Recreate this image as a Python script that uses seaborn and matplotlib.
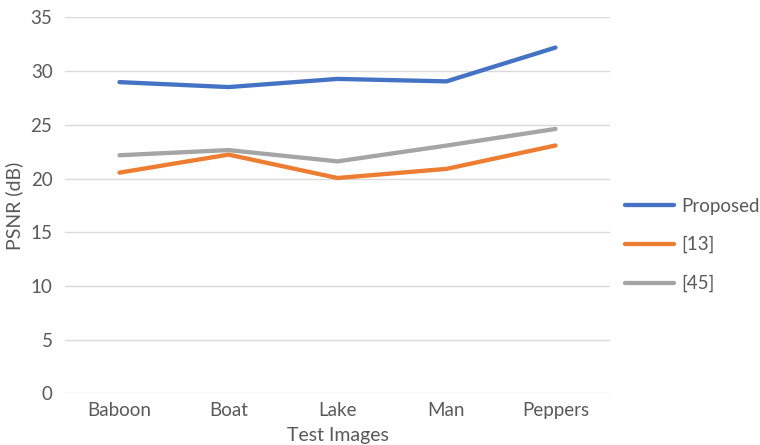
import matplotlib
matplotlib.use("Agg")
import matplotlib.pyplot as plt
import seaborn as sns
import pandas as pd

images = ["Baboon", "Boat", "Lake", "Man", "Peppers"]
proposed = [28.98, 28.52, 29.28, 29.05, 32.2]
ref13 = [20.55, 22.23, 20.05, 20.9, 23.08]
ref45 = [22.17, 22.65, 21.6, 23.07, 24.62]
series_names = ["Proposed", "[13]", "[45]"]
yticks = [0, 5, 10, 15, 20, 25, 30, 35]

df = pd.DataFrame({
    "image": images * 3,
    "psnr": proposed + ref13 + ref45,
    "method": [series_names[0]] * 5 + [series_names[1]] * 5 + [series_names[2]] * 5,
})

sns.set_theme(style="white")
plt.rcParams["font.family"] = ["Lato", "DejaVu Sans"]
text_color = "#595959"

fig = plt.figure(figsize=(7.6, 4.45), dpi=100)
ax = fig.add_axes([0.0855, 0.1162, 0.7171, 0.8445])

palette = {"Proposed": "#4472C4", "[13]": "#ED7D31", "[45]": "#A5A5A5"}
sns.lineplot(data=df, x="image", y="psnr", hue="method", palette=palette,
             linewidth=3.1, ax=ax, sort=False, legend=False)
for line in ax.get_lines():
    line.set_solid_capstyle("round")
    line.set_solid_joinstyle("round")

ax.set_xlim(-0.5, len(images) - 0.5)
ax.set_ylim(0, 35)
ax.set_yticks(yticks)
ax.set_xticks(range(len(images)))
ax.set_xticklabels(images)
ax.grid(axis="y", color="#D9D9D9", linewidth=1.0)
ax.set_axisbelow(True)
for s in ax.spines.values():
    s.set_visible(False)
ax.tick_params(axis="both", length=0, labelsize=13.5, colors=text_color)
ax.tick_params(axis="y", pad=9)
ax.tick_params(axis="x", pad=6)
ax.set_xlabel("Test Images", fontsize=14, color=text_color, labelpad=6)
ax.set_ylabel("PSNR (dB)", fontsize=14, color=text_color, labelpad=5)

handles = [plt.Line2D([0], [0], color=palette[n], linewidth=3.1, solid_capstyle="round")
           for n in series_names]
leg = fig.legend(handles, series_names, loc="upper left",
                 bbox_to_anchor=(0.823, 0.556), frameon=False, fontsize=13.5,
                 handlelength=2.6, handletextpad=0.4, labelspacing=1.15,
                 borderaxespad=0, borderpad=0)
for t in leg.get_texts():
    t.set_color(text_color)

fig.savefig("out.png", dpi=100)
